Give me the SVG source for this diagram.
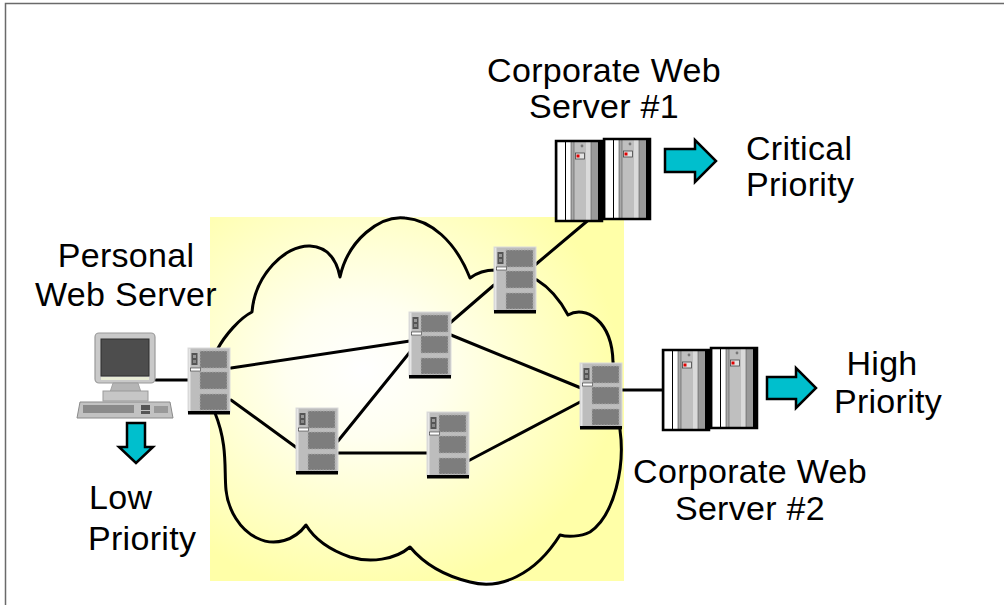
<svg xmlns="http://www.w3.org/2000/svg" xmlns:xlink="http://www.w3.org/1999/xlink" width="1004" height="605" viewBox="0 0 1004 605">
  <style>
    .lbl { font-family: "Liberation Sans", Arial, Helvetica, sans-serif; font-size: 34px; letter-spacing: 0.3px; fill: #000; }
    .mid { text-anchor: middle; }
    .wire { stroke: #000; stroke-width: 3; fill: none; stroke-linecap: round; }
    .cloud { stroke: #000; stroke-width: 3; fill: none; stroke-linejoin: round; }
    .arrow { fill: #00BFCD; stroke: #000; stroke-width: 2.5; stroke-linejoin: miter; }
    .frame { stroke: #6a6a6a; stroke-width: 1.5; fill: none; }
  </style>
  <defs>
    <radialGradient id="haze" cx="0.37" cy="0.42" r="0.62">
      <stop offset="0" stop-color="#ffffff"/>
      <stop offset="0.3" stop-color="#fffff0"/>
      <stop offset="1" stop-color="#ffffa8"/>
    </radialGradient>

    <!-- small tower server used as a network node -->
    <g id="tower">
      <rect x="0" y="0" width="42" height="64" fill="#bdbdbd" stroke="#dcdcdc" stroke-width="1"/>
      <rect x="0.5" y="0.5" width="2" height="63" fill="#e6e6e6"/>
      <rect x="12" y="3" width="27" height="17" fill="#7d7d7d" stroke="#a9a9a9" stroke-width="1" stroke-dasharray="1.5 1.5"/>
      <rect x="12" y="24" width="27" height="17" fill="#7d7d7d" stroke="#a9a9a9" stroke-width="1" stroke-dasharray="1.5 1.5"/>
      <rect x="12" y="46" width="27" height="16" fill="#7d7d7d" stroke="#a9a9a9" stroke-width="1" stroke-dasharray="1.5 1.5"/>
      <rect x="3.5" y="5" width="6" height="12" fill="#555"/>
      <rect x="5" y="7" width="3" height="3" fill="#999"/>
      <rect x="5" y="12" width="3" height="3" fill="#888"/>
      <rect x="2.5" y="20" width="10" height="3" fill="#fff" stroke="#333" stroke-width="0.6"/>
      <rect x="0" y="63" width="42" height="3.5" fill="#000"/>
    </g>

    <!-- one rack cabinet of a large server -->
    <g id="cabinet">
      <rect x="0" y="0" width="46" height="80" fill="#c6c6c6"/>
      <rect x="2" y="1" width="7" height="78" fill="#ffffff"/>
      <rect x="10" y="1" width="5" height="78" fill="#ffffff"/>
      <rect x="15" y="1" width="3" height="78" fill="#a8a8a8"/>
      <rect x="18" y="1" width="12" height="78" fill="#bfbfbf"/>
      <rect x="30" y="1" width="5" height="78" fill="#dadada"/>
      <rect x="35" y="1" width="7" height="78" fill="#9a9a9a"/>
      <line x1="9.5" y1="1" x2="9.5" y2="79" stroke="#000" stroke-width="1"/>
      <line x1="15" y1="1" x2="15" y2="79" stroke="#444" stroke-width="0.6"/>
      <line x1="18" y1="1" x2="18" y2="79" stroke="#555" stroke-width="0.6"/>
      <line x1="35" y1="1" x2="35" y2="79" stroke="#555" stroke-width="0.6"/>
      <rect x="19.5" y="12" width="9" height="6" fill="#e2e2e2" stroke="#444" stroke-width="0.8"/>
      <rect x="20.5" y="13.5" width="3" height="3" fill="#e00000"/>
      <circle cx="26" cy="5" r="1.4" fill="#777"/>
      <rect x="42" y="0" width="4" height="80" fill="#000"/>
      <rect x="0" y="0" width="46" height="80" fill="none" stroke="#000" stroke-width="2.5"/>
    </g>

    <!-- large two-cabinet corporate server -->
    <g id="mainframe">
      <use xlink:href="#cabinet" x="0" y="2"/>
      <use xlink:href="#cabinet" x="48" y="0"/>
    </g>
  </defs>

  <rect x="0" y="0" width="1004" height="605" fill="#fff"/>
  <!-- page frame -->
  <path class="frame" d="M5.5,605 L5.5,3.5 L1004,3.5"/>

  <!-- network area -->
  <rect id="network-area" x="210" y="217" width="414" height="364" fill="url(#haze)"/>
  <path id="cloud" class="cloud" d="M217,350 C225,335 240,318 252,312
    C255,275 285,245 310,246 C330,247 337,262 340,277
    C348,240 380,215 405,218 C430,220 455,240 470,278
    C478,272 488,270 495,270 L537,280
    C550,288 560,300 568,315
    C585,305 612,320 613,362 L620,430
    C625,465 615,515 590,532 C580,537 567,537 560,535
    C535,575 500,590 470,582 C445,576 425,565 410,547
    C395,560 370,563 350,557 C330,550 315,540 306,525
    C295,540 275,547 257,538 C240,530 228,510 226,490
    C224,470 228,445 215,413 Z"/>

  <!-- connectors -->
  <g id="connectors">
    <line class="wire" x1="156" y1="380" x2="190" y2="380"/>
    <line class="wire" x1="231" y1="368" x2="410" y2="341"/>
    <line class="wire" x1="231" y1="400" x2="297" y2="448"/>
    <line class="wire" x1="338" y1="441" x2="410" y2="352"/>
    <line class="wire" x1="337" y1="453" x2="428" y2="453"/>
    <line class="wire" x1="468" y1="461" x2="582" y2="401"/>
    <line class="wire" x1="451" y1="335" x2="581" y2="388"/>
    <line class="wire" x1="450" y1="323" x2="494" y2="285"/>
    <line class="wire" x1="535" y1="265" x2="592" y2="217"/>
    <line class="wire" x1="622" y1="390" x2="665" y2="390"/>
  </g>

  <!-- network nodes -->
  <g id="node-left"><use xlink:href="#tower" x="188" y="348"/></g>
  <g id="node-lower-left"><use xlink:href="#tower" x="296" y="408"/></g>
  <g id="node-lower-mid"><use xlink:href="#tower" x="427" y="412"/></g>
  <g id="node-mid"><use xlink:href="#tower" x="409" y="312"/></g>
  <g id="node-top"><use xlink:href="#tower" x="494" y="247"/></g>
  <g id="node-right"><use xlink:href="#tower" x="580" y="363"/></g>

  <!-- personal computer -->
  <g id="personal-pc">
    <rect x="95" y="333" width="60" height="50" rx="4" fill="#c9c9c9" stroke="#9a9a9a" stroke-width="1.2"/>
    <rect x="101" y="339" width="48" height="37" fill="#4d4d4d" stroke="#2e2e2e" stroke-width="1"/>
    <rect x="101" y="377" width="48" height="3" fill="#e9ecd6"/>
    <path d="M113,383 L138,383 L141,392 L110,392 Z" fill="#b5b5b5" stroke="#999" stroke-width="0.8"/>
    <rect x="103" y="391" width="45" height="10" fill="#c6c6c6" stroke="#9a9a9a" stroke-width="1"/>
    <path d="M80,402 L170,402 L173,418 L77,418 Z" fill="#c2c2c2" stroke="#8a8a8a" stroke-width="1"/>
    <rect x="83" y="405" width="51" height="8" fill="#8a8a8a"/>
    <rect x="141" y="405" width="9" height="5" fill="#555"/>
    <rect x="141" y="411" width="9" height="3" fill="#555"/>
    <rect x="154" y="406" width="14" height="7" fill="#999"/>
  </g>

  <!-- corporate servers -->
  <g id="corporate-server-1"><use xlink:href="#mainframe" x="556" y="139"/></g>
  <g id="corporate-server-2"><use xlink:href="#mainframe" x="663" y="348"/></g>

  <!-- priority arrows -->
  <g id="arrow-critical"><path class="arrow" d="M665,149 L695,149 L695,140 L716,161 L695,182 L695,172 L665,172 Z"/></g>
  <g id="arrow-high"><path class="arrow" d="M767,377 L796,377 L796,368 L816,388 L796,408 L796,399 L767,399 Z"/></g>
  <g id="arrow-low"><path class="arrow" d="M127,423 L145,423 L145,447 L153,447 L136,463 L119,447 L127,447 Z"/></g>

  <!-- labels -->
  <g id="labels">
    <text class="lbl mid" x="604" y="82">Corporate Web</text>
    <text class="lbl mid" x="604" y="118">Server #1</text>
    <text class="lbl" x="746" y="160">Critical</text>
    <text class="lbl" x="746" y="196">Priority</text>
    <text class="lbl mid" x="126" y="267">Personal</text>
    <text class="lbl mid" x="126" y="306">Web Server</text>
    <text class="lbl mid" x="882" y="375">High</text>
    <text class="lbl mid" x="888" y="413">Priority</text>
    <text class="lbl mid" x="750" y="483">Corporate Web</text>
    <text class="lbl mid" x="750" y="520">Server #2</text>
    <text class="lbl" x="89" y="509">Low</text>
    <text class="lbl" x="88" y="550">Priority</text>
  </g>
</svg>
